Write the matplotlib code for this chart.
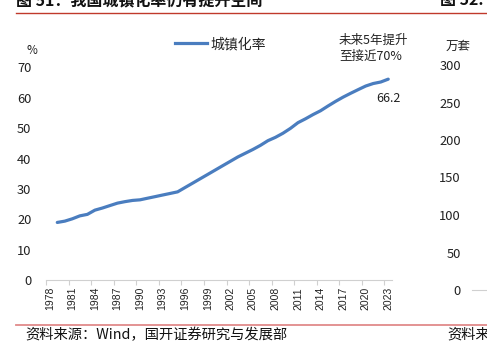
import numpy as np
import matplotlib.pyplot as plt
from matplotlib.lines import Line2D

plt.rcParams['font.family'] = ['Noto Sans CJK SC', 'DejaVu Sans']

# 城镇化率 (%), 1978-2023; the series starts in 1979
years = list(range(1978, 2024))
urban_rate = [np.nan, 18.96, 19.39, 20.16, 21.13, 21.62, 23.01, 23.71, 24.52,
              25.32, 25.81, 26.21, 26.41, 26.94, 27.46, 27.99, 28.51, 29.04,
              30.48, 31.91, 33.35, 34.78, 36.22, 37.66, 39.09, 40.53, 41.76,
              42.99, 44.34, 45.89, 46.99, 48.34, 49.95, 51.83, 53.10, 54.49,
              55.75, 57.33, 58.84, 60.24, 61.50, 62.71, 63.89, 64.72, 65.22,
              66.16]
left_ticks = [0, 10, 20, 30, 40, 50, 60, 70]
right_ticks = [0, 50, 100, 150, 200, 250, 300]

W, H = 487, 342


def fx(x):
    return x / W


def fy(y):
    return 1 - y / H


fig = plt.figure(figsize=(W / 100, H / 100), dpi=100)
blue = '#4a7dbf'

# main chart
ax = fig.add_axes([fx(46), fy(280), 346 / W, (280 - 67.5) / H])
pos = np.arange(len(years))
ax.plot(pos, urban_rate, color=blue, lw=2.3, solid_capstyle='round')
ax.set_xlim(-0.5, len(years) - 0.5)
ax.set_ylim(0, 70)
ax.set_yticks(left_ticks)
ax.tick_params(axis='y', length=0, pad=10.5, labelsize=9.3, labelcolor='#222222')
ax.set_xticks(pos[::3])
ax.set_xticklabels([str(y) for y in years[::3]], rotation=90,
                   fontfamily='Liberation Sans', fontsize=7.5, color='#222222')
ax.set_xticks(np.arange(-0.5, len(years), 3), minor=True)
ax.tick_params(axis='x', which='major', length=0, pad=5)
ax.tick_params(axis='x', which='minor', length=3.5, color='#d0d0d0', width=0.8)
for s in ['top', 'right', 'left']:
    ax.spines[s].set_visible(False)
ax.spines['bottom'].set_color('#d0d0d0')
ax.spines['bottom'].set_linewidth(0.8)

last = len(years) - 1
ax.annotate(f'{urban_rate[last]:.1f}', xy=(last, urban_rate[last]),
            xytext=(0, -14), textcoords='offset points', ha='center',
            va='center', fontsize=9, color='#222222')

fig.legend(handles=[Line2D([], [], color=blue, lw=2.3)], labels=['城镇化率'],
           loc='center left', bbox_to_anchor=(fx(175), fy(44)), frameon=False,
           fontsize=10, handlelength=2.3, handletextpad=0.25, borderpad=0,
           borderaxespad=0, labelcolor='#222222')

fig.text(fx(32), fy(51), '%', ha='center', va='center', fontsize=8.5, color='#222222')
fig.text(fx(339), fy(40), '未来5年提升', ha='left', va='center', fontsize=9, color='#222222')
fig.text(fx(339), fy(56.7), '至接近70%', ha='left', va='center', fontsize=9, color='#222222')

# neighbouring chart (cut off at the right)
ax2 = fig.add_axes([fx(472), fy(290), 0.2, (290 - 65) / H])
ax2.set_ylim(0, 300)
ax2.set_yticks(right_ticks)
ax2.set_xticks([])
ax2.tick_params(axis='y', length=0, pad=8, labelsize=9.3, labelcolor='#222222')
for s in ['top', 'right', 'left']:
    ax2.spines[s].set_visible(False)
ax2.spines['bottom'].set_color('#d0d0d0')
ax2.spines['bottom'].set_linewidth(0.8)
ax2.patch.set_alpha(0)
fig.text(fx(458), fy(46), '万套', ha='center', va='center', fontsize=9, color='#222222')

# report page frame
fig.text(fx(16), fy(8.5), '图 51：我国城镇化率仍有提升空间', ha='left', va='bottom',
         fontsize=11.5, fontweight='bold', color='#111111')
fig.text(fx(440), fy(8.5), '图 52:', ha='left', va='bottom',
         fontsize=11.5, fontweight='bold', color='#111111')
fig.add_artist(Line2D([fx(16), 1], [fy(13.3), fy(13.3)], color='#c0392b', lw=1))
fig.add_artist(Line2D([fx(16), 1], [fy(324.5), fy(324.5)], color='#e08a8a', lw=1.3))
fig.text(fx(25), fy(335), '资料来源：Wind，国开证券研究与发展部', ha='left', va='center',
         fontsize=10.3, color='#111111')
fig.text(fx(447), fy(335), '资料来', ha='left', va='center', fontsize=10.3, color='#111111')

fig.savefig('out.png', dpi=100)
